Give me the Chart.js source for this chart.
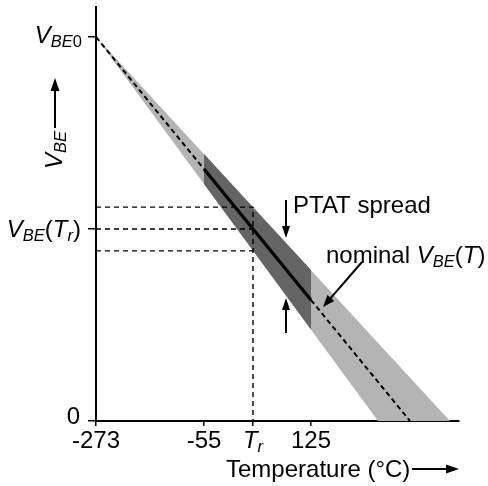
<!DOCTYPE html>
<html>
<head>
<meta charset="utf-8">
<script src="https://cdn.jsdelivr.net/npm/chart.js@4.4.1/dist/chart.umd.min.js"></script>
<style>
  html, body { margin: 0; padding: 0; background: #fff; }
  #wrap { width: 488px; height: 486px; position: relative; }
</style>
</head>
<body>
<div id="wrap"><canvas id="chart"></canvas></div>
<script>
// schematic axes: x = position along temperature axis (-273 at 0), y = fraction of VBE0
const xTickPos = [0, 108, 157, 215];
const yTickPos = [0, 0.5, 1];

// light wedge: full spread of VBE(T) lines fanning out from VBE0
const wedgeX = [0, 282, 354];
const wedgeY = [1, 0, 0];

// dark part of the spread, inside the -55..125 range
const bandX = [108, 215, 215, 108];
const bandY = [0.695, 0.393, 0.238, 0.617];

// nominal VBE(T)
const nominalX = [0, 108, 215, 314];
const nominalY = [1, 0.656, 0.315, 0];

// dashed guides at Tr
const guideHighX = [0, 157, 157];
const guideHighY = [0.557, 0.557, 0];
const guideMidX = [0, 157];
const guideMidY = [0.5, 0.5];
const guideLowX = [0, 157];
const guideLowY = [0.443, 0.443];

const FONT = '"Liberation Sans", Arial, sans-serif';
const pts = (xs, ys) => xs.map((x, i) => ({ x, y: ys[i] }));

// draws mixed italic / subscript runs: parts = [[text, italic, sub]]
function rich(ctx, parts, x, y, align) {
  const fontFor = (it, sub) => `${it ? 'italic ' : ''}${sub ? 16.5 : 24}px ${FONT}`;
  let w = 0;
  parts.forEach(([t, it, sub]) => { ctx.font = fontFor(it, sub); w += ctx.measureText(t).width; });
  let cx = align === 'right' ? x - w : align === 'center' ? x - w / 2 : x;
  ctx.textAlign = 'left';
  ctx.textBaseline = 'alphabetic';
  parts.forEach(([t, it, sub]) => {
    ctx.font = fontFor(it, sub);
    ctx.fillText(t, cx, sub ? y + 4 : y);
    cx += ctx.measureText(t).width;
  });
}

function arrow(ctx, x1, y1, x2, y2, len = 12, half = 4) {
  const a = Math.atan2(y2 - y1, x2 - x1);
  ctx.beginPath();
  ctx.moveTo(x1, y1);
  ctx.lineTo(x2 - Math.cos(a) * (len - 2), y2 - Math.sin(a) * (len - 2));
  ctx.stroke();
  ctx.beginPath();
  ctx.moveTo(x2, y2);
  ctx.lineTo(x2 - Math.cos(a) * len - Math.sin(a) * half, y2 - Math.sin(a) * len + Math.cos(a) * half);
  ctx.lineTo(x2 - Math.cos(a) * len + Math.sin(a) * half, y2 - Math.sin(a) * len - Math.cos(a) * half);
  ctx.closePath();
  ctx.fill();
}

const labelsPlugin = {
  id: 'labels',
  afterDraw(chart) {
    const { ctx } = chart;
    const xs = chart.scales.x, ys = chart.scales.y;
    ctx.save();
    ctx.fillStyle = '#000';
    ctx.strokeStyle = '#000';
    ctx.lineWidth = 2;

    // x tick labels
    const base = ys.getPixelForValue(0) + 27;
    rich(ctx, [['-273']], xs.getPixelForValue(xTickPos[0]), base, 'center');
    rich(ctx, [['-55']], xs.getPixelForValue(xTickPos[1]), base, 'center');
    rich(ctx, [['T', true], ['r', true, true]], xs.getPixelForValue(xTickPos[2]), base, 'center');
    rich(ctx, [['125']], xs.getPixelForValue(xTickPos[3]), base, 'center');

    // y tick labels
    const lx = xs.left - 14;
    rich(ctx, [['0']], lx - 2, ys.getPixelForValue(yTickPos[0]) + 3, 'right');
    rich(ctx, [['V', true], ['BE', true, true], ['(', false], ['T', true], ['r', true, true], [')', false]],
      lx - 1, ys.getPixelForValue(yTickPos[1]) + 8, 'right');
    rich(ctx, [['V', true], ['BE', true, true], ['0', false, true]], lx, ys.getPixelForValue(yTickPos[2]) + 6, 'right');

    // axis titles with arrows
    rich(ctx, [['Temperature (°C)']], 226, 477, 'left');
    arrow(ctx, 412, 469, xs.right, 469, 13, 4.5);

    ctx.save();
    ctx.translate(62, 169);
    ctx.rotate(-Math.PI / 2);
    rich(ctx, [['V', true], ['BE', true, true]], 0, 0, 'left');
    ctx.restore();
    arrow(ctx, 55, 128, 55, 78, 13, 4.5);

    // annotations
    rich(ctx, [['PTAT spread']], 293, 213, 'left');
    arrow(ctx, 286, 200, 286, 238, 12, 4);
    arrow(ctx, 286, 333, 286, 298, 12, 4);
    rich(ctx, [['nominal '], ['V', true], ['BE', true, true], ['(', false], ['T', true], [')', false]], 326, 263, 'left');
    arrow(ctx, 362, 262, 323, 307, 12, 4.5);

    ctx.restore();
  }
};

new Chart(document.getElementById('chart'), {
  type: 'line',
  data: {
    datasets: [
      {
        data: pts(nominalX, nominalY),
        borderColor: '#000',
        borderWidth: 2,
        pointRadius: 0,
        fill: false,
        order: 1,
        segment: {
          borderDash: c => (c.p0DataIndex === 1 ? [] : [5, 3.5]),
          borderWidth: c => (c.p0DataIndex === 1 ? 3.2 : 2),
        },
      },
      {
        data: pts(guideHighX, guideHighY),
        borderColor: '#000', borderWidth: 1.4, borderDash: [5, 4],
        pointRadius: 0, fill: false, order: 2,
      },
      {
        data: pts(guideMidX, guideMidY),
        borderColor: '#000', borderWidth: 1.4, borderDash: [5, 4],
        pointRadius: 0, fill: false, order: 2,
      },
      {
        data: pts(guideLowX, guideLowY),
        borderColor: '#000', borderWidth: 1.4, borderDash: [5, 4],
        pointRadius: 0, fill: false, order: 2,
      },
      {
        data: pts(bandX, bandY),
        borderWidth: 0, borderColor: 'rgba(0,0,0,0)',
        backgroundColor: '#646464',
        pointRadius: 0, fill: 'shape', order: 3,
      },
      {
        data: pts(wedgeX, wedgeY),
        borderWidth: 0, borderColor: 'rgba(0,0,0,0)',
        backgroundColor: '#b4b4b4',
        pointRadius: 0, fill: 'shape', order: 4,
      },
    ],
  },
  options: {
    responsive: true,
    maintainAspectRatio: false,
    animation: false,
    events: [],
    layout: { padding: { top: 7, right: 29, left: 0, bottom: 0 } },
    plugins: { legend: { display: false }, tooltip: { enabled: false } },
    scales: {
      x: {
        type: 'linear',
        min: 0,
        max: 363,
        afterBuildTicks: s => { s.ticks = xTickPos.map(v => ({ value: v })); },
        afterFit: s => { s.height = 65; },
        ticks: { display: false },
        grid: { drawOnChartArea: false, drawTicks: true, tickLength: 5, color: '#000', lineWidth: 1.5 },
        border: { display: true, color: '#000', width: 2 },
      },
      y: {
        type: 'linear',
        min: 0,
        max: 1.078,
        afterBuildTicks: s => { s.ticks = yTickPos.map(v => ({ value: v })); },
        afterFit: s => { s.width = 96; },
        ticks: { display: false },
        grid: { drawOnChartArea: false, drawTicks: true, tickLength: 8, color: '#000', lineWidth: 1.5 },
        border: { display: true, color: '#000', width: 2 },
      },
    },
  },
  plugins: [labelsPlugin],
});
</script>
</body>
</html>
